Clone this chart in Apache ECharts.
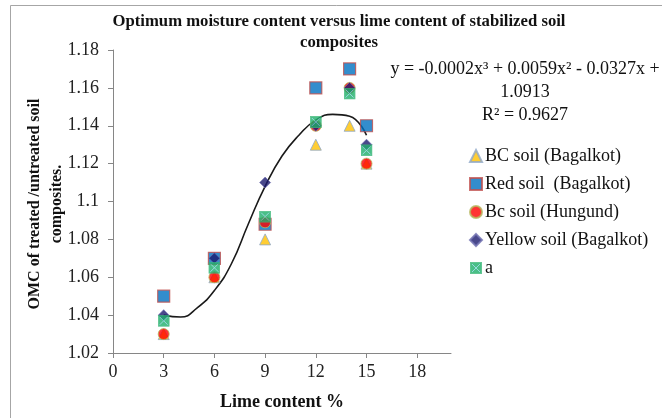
<!DOCTYPE html>
<html><head><meta charset="utf-8">
<script src="https://cdn.jsdelivr.net/npm/echarts@6/dist/echarts.min.js"></script>
<style>html,body{margin:0;padding:0;background:#fff}#c{width:662px;height:418px}</style>
</head><body><div id="c"></div>
<script>
const limeContent = [3, 6, 9, 12, 14, 15];
const bcSoilBagalkot = [1.03, 1.06, 1.08, 1.13, 1.14, 1.12];
const redSoilBagalkot = [1.05, 1.07, 1.088, 1.16, 1.17, 1.14];
const bcSoilHungund = [1.03, 1.06, 1.089, 1.14, 1.16, 1.12];
const yellowSoilBagalkot = [1.04, 1.07, 1.11, 1.14, 1.16, 1.13];
const seriesA = [1.037, 1.065, 1.092, 1.142, 1.157, 1.127];
const trendX = [3, 4, 5, 6, 7, 8, 9, 10, 11, 12, 13, 14, 15];
const trendY = [1.040, 1.039, 1.044, 1.053, 1.067, 1.088, 1.108, 1.124, 1.135, 1.143, 1.146, 1.145, 1.135];
const xTicks = [0, 3, 6, 9, 12, 15, 18];
const yTicks = [1.02, 1.04, 1.06, 1.08, 1.1, 1.12, 1.14, 1.16, 1.18];
const legendNames = ['BC soil (Bagalkot)', 'Red soil  (Bagalkot)', 'Bc soil (Hungund)', 'Yellow soil (Bagalkot)', 'a'];

const pair = (xs, ys) => xs.map((x, i) => [x, ys[i]]);
const FONT = '"Liberation Serif", "Times New Roman", serif';
const aSvg = 'data:image/svg+xml;utf8,' + encodeURIComponent(
  '<svg xmlns="http://www.w3.org/2000/svg" width="12" height="12"><rect x="0.5" y="0.5" width="11" height="11" fill="#1DAF6A" stroke="#3CB878"/><path d="M2 2L10 10M10 2L2 10" stroke="#7FCFD6" stroke-width="1"/></svg>');

const chart = echarts.init(document.getElementById('c'), null, {renderer: 'canvas'});
chart.setOption({
  animation: false,
  title: {
    text: 'Optimum moisture content versus lime content of stabilized soil\ncomposites',
    left: 334, top: 6, textAlign: 'center',
    textStyle: {fontFamily: FONT, fontSize: 16.7, fontWeight: 'bold', color: '#111', lineHeight: 21}
  },
  legend: {
    orient: 'vertical', left: 464, top: 142, itemGap: 10, itemWidth: 12, itemHeight: 12,
    data: legendNames,
    textStyle: {fontFamily: FONT, fontSize: 18, color: '#111', padding: [0, 0, 0, -2]}
  },
  grid: {left: 113, right: 211, top: 50, bottom: 65},
  xAxis: {
    type: 'value', min: 0, max: 20,
    axisLine: {lineStyle: {color: '#868686'}},
    axisTick: {length: 5, lineStyle: {color: '#868686'}, customValues: xTicks},
    axisLabel: {customValues: xTicks, margin: 10, fontFamily: FONT, fontSize: 18, color: '#222'},
    splitLine: {show: false}
  },
  yAxis: {
    type: 'value', min: 1.02, max: 1.18, interval: 0.02,
    axisLine: {show: true, lineStyle: {color: '#868686'}},
    axisTick: {show: true, length: 5, lineStyle: {color: '#868686'}, customValues: yTicks},
    axisLabel: {customValues: yTicks, margin: 14, fontFamily: FONT, fontSize: 18, color: '#222'},
    splitLine: {show: false}
  },
  graphic: [
    {type: 'line', shape: {x1: 10.5, y1: 5.5, x2: 10.5, y2: 418}, style: {stroke: '#A6A6A6', lineWidth: 1}},
    {type: 'line', shape: {x1: 10.5, y1: 5.5, x2: 662, y2: 5.5}, style: {stroke: '#A6A6A6', lineWidth: 1}},
    {type: 'text', x: 525, y: 58, style: {text: 'y = -0.0002x³ + 0.0059x² - 0.0327x +\n1.0913\nR² = 0.9627', textAlign: 'center', font: '18px ' + FONT, lineHeight: 23, fill: '#111'}},
    {type: 'text', x: 46, y: 204, rotation: Math.PI / 2, style: {text: 'OMC of treated /untreated soil\ncomposites.', textAlign: 'center', textVerticalAlign: 'middle', font: 'bold 16px ' + FONT, lineHeight: 22, fill: '#111'}},
    {type: 'text', x: 282, y: 402, style: {text: 'Lime content %', textAlign: 'center', textVerticalAlign: 'middle', font: 'bold 18px ' + FONT, fill: '#111'}}
  ],
  series: [
    {type: 'line', name: 'trend', data: pair(trendX, trendY), smooth: 0.5, showSymbol: false, silent: true,
     lineStyle: {color: '#1a1a1a', width: 1.6}, z: 1},
    {type: 'scatter', name: legendNames[0], data: pair(limeContent, bcSoilBagalkot), symbol: 'triangle', symbolSize: 11,
     itemStyle: {color: '#FFC000', borderColor: '#8FA8C8', borderWidth: 1}, z: 2},
    {type: 'scatter', name: legendNames[1], data: pair(limeContent, redSoilBagalkot), symbol: 'rect', symbolSize: 12,
     itemStyle: {color: '#0070C0', borderColor: '#C0504D', borderWidth: 1.2}, z: 2},
    {type: 'scatter', name: legendNames[2], data: pair(limeContent, bcSoilHungund), symbol: 'circle', symbolSize: 11,
     itemStyle: {color: '#FF0000', borderColor: '#B5B55A', borderWidth: 1}, z: 2},
    {type: 'scatter', name: legendNames[3], data: pair(limeContent, yellowSoilBagalkot), symbol: 'diamond', symbolSize: 11,
     itemStyle: {color: '#1B1A6E', borderColor: '#6F6FB0', borderWidth: 0.8}, z: 2},
    {type: 'scatter', name: legendNames[4], data: pair(limeContent, seriesA), symbol: 'image://' + aSvg, symbolSize: 12, z: 2}
  ]
});
</script></body></html>
